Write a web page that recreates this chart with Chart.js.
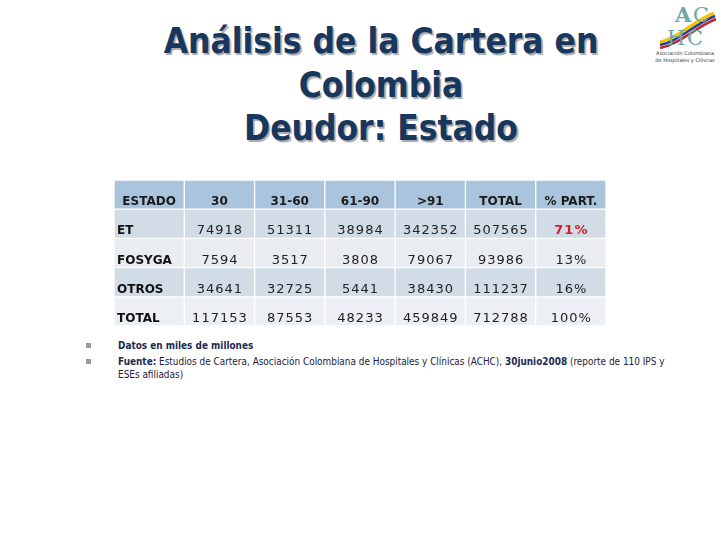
<!DOCTYPE html>
<html>
<head>
<meta charset="utf-8">
<script src="https://cdn.jsdelivr.net/npm/chart.js@4.4.1/dist/chart.umd.min.js"></script>
<style>
  html, body { margin:0; padding:0; background:#fff; width:720px; height:540px; overflow:hidden; }
  body { position:relative; font-family:"DejaVu Sans", sans-serif; }
  .title { position:absolute; left:0; width:762px; text-align:center; font-weight:bold;
           font-size:35px; line-height:44px; color:#17375e; white-space:nowrap;
           text-shadow:2px 2px 1px #a9a9a9; transform:scaleX(0.9); transform-origin:381px 50%; }
  #tableWrap { position:absolute; left:114px; top:180px; width:492px; height:146px; }
  .note { position:absolute; left:118px; font-size:11px; line-height:13px; color:#1c2140;
          white-space:nowrap; transform:scaleX(0.81); transform-origin:0 0; }
  .note b { color:#1b2a55; }
  .bullet { position:absolute; left:86px; width:5px; height:5px; background:#9a9a9a; }
  #logo { position:absolute; left:648px; top:0; }
</style>
</head>
<body>
<div class="title" style="top:19px">Análisis de la Cartera en</div>
<div class="title" style="top:63px">Colombia</div>
<div class="title" style="top:106px">Deudor: Estado</div>

<svg id="logo" width="72" height="66" viewBox="0 0 72 66">
  <path d="M12 42 C 30 38, 44 22, 66 13" stroke="#f2c500" stroke-width="3" fill="none"/>
  <path d="M12 45 C 31 41, 45 25, 67 16" stroke="#2a3f8f" stroke-width="2.5" fill="none"/>
  <path d="M12 48 C 32 44, 46 28, 68 19" stroke="#c1272d" stroke-width="2.5" fill="none"/>
  <text x="27" y="22" font-family="DejaVu Serif" font-size="21" font-weight="bold" fill="#6fa7a6">A</text>
  <text x="45" y="22" font-family="DejaVu Serif" font-size="21" fill="#6fa7a6">C</text>
  <text x="19" y="45" font-family="DejaVu Serif" font-size="21" fill="#6fa7a6">H</text>
  <text x="39" y="45" font-family="DejaVu Serif" font-size="21" fill="#6fa7a6">C</text>
  <text x="37" y="55" font-family="DejaVu Sans" font-size="5" fill="#333" text-anchor="middle">Asociación Colombiana</text>
  <text x="37" y="62" font-family="DejaVu Sans" font-size="5" fill="#333" text-anchor="middle">de Hospitales y Clínicas</text>
</svg>

<div id="tableWrap"><canvas id="c"></canvas></div>

<div class="bullet" style="top:343px"></div>
<div class="bullet" style="top:359px"></div>
<div class="note" style="top:339px"><b>Datos en miles de millones</b></div>
<div class="note" style="top:355px"><b>Fuente:</b> Estudios de Cartera, Asociación Colombiana de Hospitales y Clínicas (ACHC), <b>30junio2008</b> (reporte de 110 IPS y<br>ESEs afiliadas)</div>

<script>
// ---- data ----
const columns   = ['ESTADO', '30', '31-60', '61-90', '>91', 'TOTAL', '% PART.'];
const rowLabels = ['ET', 'FOSYGA', 'OTROS', 'TOTAL'];
const days30    = [74918, 7594, 34641, 117153];
const days31_60 = [51311, 3517, 32725, 87553];
const days61_90 = [38984, 3808, 5441, 48233];
const days91    = [342352, 79067, 38430, 459849];
const totals    = [507565, 93986, 111237, 712788];
const partPct   = [71, 13, 16, 100];

// ---- styles ----
const rowFills = ['#a9c4dc', '#d2dce7', '#e9edf2', '#d2dce7', '#eceff3'];
const highlightIndex = 0; // ET % PART. in red

const valueColumns = [days30, days31_60, days61_90, days91, totals];
const nRows = rowLabels.length + 1;

const datasets = [];
for (let r = 0; r < nRows; r++) {
  datasets.push({
    data: columns.map(() => [r, r + 1]),
    backgroundColor: rowFills[r],
    borderColor: '#ffffff',
    borderWidth: 1,
    borderSkipped: false,
    grouped: false,
    barPercentage: 1,
    categoryPercentage: 1
  });
}

const cellText = {
  id: 'cellText',
  afterDatasetsDraw(chart) {
    const { ctx, scales: { x, y } } = chart;
    ctx.save();
    ctx.textBaseline = 'alphabetic';
    const base = (r) => y.getPixelForValue(r + 0.5) + 10.5;
    // header
    ctx.font = 'bold 12px "DejaVu Sans"';
    ctx.fillStyle = '#1b1b1b';
    ctx.textAlign = 'center';
    columns.forEach((c, j) => ctx.fillText(c, x.getPixelForValue(j), base(0)));
    // rows
    rowLabels.forEach((lab, i) => {
      const by = base(i + 1);
      ctx.font = 'bold 12px "DejaVu Sans"';
      ctx.fillStyle = '#111';
      ctx.textAlign = 'left';
      ctx.fillText(lab, x.left + 3, by);
      ctx.textAlign = 'center';
      ctx.font = '13px "DejaVu Sans"';
      ctx.letterSpacing = '1px';
      ctx.fillStyle = '#222';
      valueColumns.forEach((col, k) => {
        ctx.fillText(String(col[i]), x.getPixelForValue(k + 1) + 0.5, by);
      });
      if (i === highlightIndex) {
        ctx.font = 'bold 13px "DejaVu Sans"';
        ctx.fillStyle = '#d0202a';
      }
      ctx.fillText(partPct[i] + '%', x.getPixelForValue(6) + 0.5, by);
      ctx.letterSpacing = '0px';
    });
    ctx.restore();
  }
};

new Chart(document.getElementById('c'), {
  type: 'bar',
  data: { labels: columns, datasets },
  options: {
    responsive: true,
    maintainAspectRatio: false,
    animation: false,
    layout: { padding: 0 },
    plugins: { legend: { display: false }, tooltip: { enabled: false }, title: { display: false } },
    scales: {
      x: { type: 'category', display: false, offset: true, grid: { display: false } },
      y: { type: 'linear', min: 0, max: nRows, reverse: true, display: false, grid: { display: false } }
    }
  },
  plugins: [cellText]
});
</script>
</body>
</html>
